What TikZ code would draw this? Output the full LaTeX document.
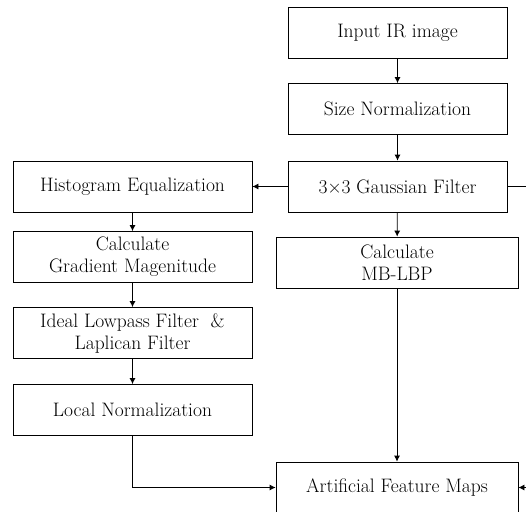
\documentclass[tikz,border=0pt]{standalone}
\usepackage{tikz}
\usetikzlibrary{arrows.meta}

\tikzset{
    stepbox/.style={draw, line width=0.8pt, minimum height=51pt, align=center,
        inner sep=0pt, font=\fontsize{19.5}{22}\selectfont},
    narrowbox/.style={stepbox, minimum width=219pt},
    widebox/.style={stepbox, minimum width=242pt},
    leftbox/.style={stepbox, minimum width=239pt},
    flow/.style={line width=0.8pt, -{Latex[length=6pt,width=6pt]}}
}

\begin{document}
\begin{tikzpicture}[x=1pt, y=-1pt]
    \useasboundingbox (0,0) rectangle (526,511);
    \clip (0,0) rectangle (526,511);
    % right column
    \node[narrowbox] (input) at (397.5,32.5) {Input IR image};
    \node[narrowbox] (size) at (397.5,109) {Size Normalization};
    \node[narrowbox] (gauss) at (397.5,186.5) {3×3 Gaussian Filter};
    \node[widebox] (lbp) at (397,262.5) {Calculate\\MB-LBP};
    \node[widebox] (maps) at (397,487.5) {Artificial Feature Maps};
    % left column
    \node[leftbox] (hist) at (132.5,186.5) {Histogram Equalization};
    \node[leftbox] (grad) at (132.5,257) {Calculate\\Gradient Magenitude};
    \node[leftbox] (ideal) at (132.5,333) {Ideal Lowpass Filter \ \&\\Laplican Filter};
    \node[leftbox] (local) at (132.5,410) {Local Normalization};
    % off-picture ends on the right
    \coordinate (gout) at (530,186.5);
    \coordinate (min) at (530,487.5);

    \draw[flow] (input) -- (size);
    \draw[flow] (size) -- (gauss);
    \draw[flow] (gauss) -- (hist);
    \draw[line width=0.8pt] (gauss) -- (gout);
    \draw[flow] (gauss) -- (lbp);
    \draw[flow] (hist) -- (grad);
    \draw[flow] (grad) -- (ideal);
    \draw[flow] (ideal) -- (local);
    \draw[flow] (local.south) |- (maps.west);
    \draw[flow] (lbp) -- (maps);
    \draw[flow] (min) -- (maps.east);
\end{tikzpicture}
\end{document}
